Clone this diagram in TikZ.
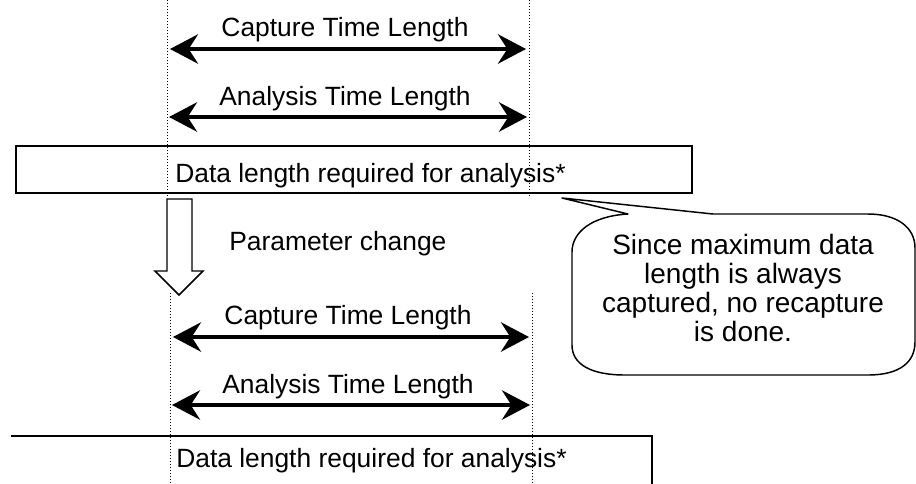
\documentclass[tikz,border=0pt]{standalone}
\usepackage{fontspec}
\setmainfont{Liberation Sans}
\usetikzlibrary{arrows.meta}

\tikzset{
  lbl/.style={font=\fontsize{19.8}{21.4}\selectfont, inner sep=0pt},
  notetext/.style={font=\fontsize{21}{21.9}\selectfont, inner sep=0pt, align=center},
  span/.style={line width=3pt,
    {Stealth[length=21pt,width=22pt,inset=7pt]}-{Stealth[length=21pt,width=22pt,inset=7pt]}},
  guide/.style={line width=0.75pt, dash pattern=on 0.75pt off 1.5pt},
  frame/.style={line width=1.1pt, line join=miter},
}

\begin{document}
\begin{tikzpicture}[x=0.75pt,y=-0.75pt]

  \clip (0,0) rectangle (916,483);

  % spans and guides, before (1) and after (2) the parameter change
  \foreach \n/\dy/\xl/\xr/\gt/\gb in {1/0/167/529/0/198, 2/288/170/532/293/483} {
    \coordinate (gl\n t) at (\xl,\gt);
    \coordinate (gl\n b) at (\xl,\gb);
    \coordinate (gr\n t) at (\xr,\gt);
    \coordinate (gr\n b) at (\xr,\gb);
    \draw[guide] (gl\n t) -- (gl\n b);
    \draw[guide] (gr\n t) -- (gr\n b);

    \node[lbl, anchor=base] (cap\n) at ({(\xl+\xr)/2-3},36+\dy) {Capture Time Length};
    \coordinate (capL\n) at (\xl+3,49+\dy);
    \coordinate (capR\n) at (\xr-3,49+\dy);
    \draw[span] (capL\n) -- (capR\n);

    \node[lbl, anchor=base] (ana\n) at ({(\xl+\xr)/2-3},105+\dy) {Analysis Time Length};
    \coordinate (anaL\n) at (\xl+2,117+\dy);
    \coordinate (anaR\n) at (\xr-2,117+\dy);
    \draw[span] (anaL\n) -- (anaR\n);
  }

  % data boxes
  \draw[frame] (16,146) rectangle (692,193);
  \node[lbl, anchor=base west] (data1) at (175,182) {Data length required for analysis*};
  \draw[frame] (11,436) -- (652,436) -- (652,490);
  \node[lbl, anchor=base west] (data2) at (176,467) {Data length required for analysis*};

  % hollow arrow
  \draw[frame, fill=white]
    (167,199) -- (192,199) -- (192,271) -- (203,271) -- (179,295)
    -- (155,271) -- (167,271) -- cycle;
  \node[lbl, anchor=base west] (pchange) at (229,250) {Parameter change};

  % callout
  \draw[frame, line join=round]
    (713,214) -- (562,198) -- (628,214)
    .. controls (592,216) and (572,232) .. (572,252)
    -- (572,345) .. controls (572,365) and (592,375) .. (625,375)
    -- (868,375) .. controls (900,375) and (915,362) .. (915,342)
    -- (915,248) .. controls (915,228) and (898,214) .. (868,214)
    -- cycle;
  \node[notetext] (note) at (743,288)
    {Since maximum data\\length is always\\captured, no recapture\\is done.};
\end{tikzpicture}
\end{document}
